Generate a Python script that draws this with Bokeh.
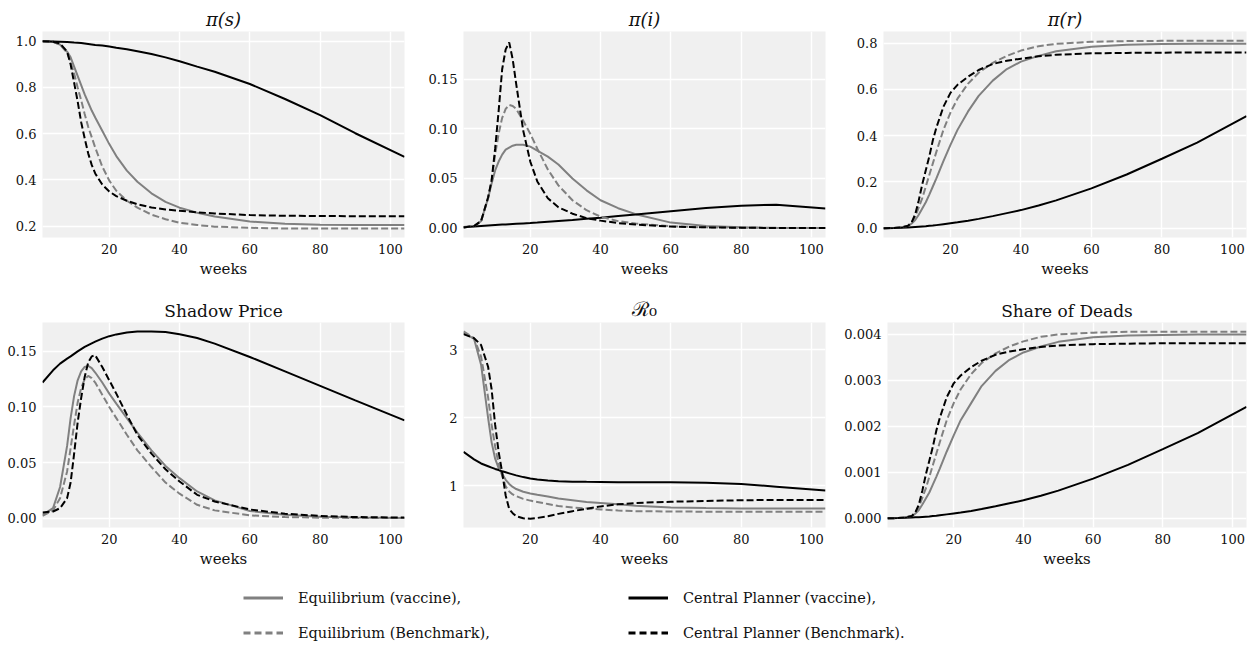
from bokeh.plotting import figure
from bokeh.models import Range1d, FixedTicker, NumeralTickFormatter, Legend, LegendItem, ColumnDataSource
from bokeh.layouts import column, row
from bokeh.embed import file_html
from bokeh.resources import INLINE

# ---------------- data ----------------
weeks = [1, 4, 6, 8, 9, 10, 11, 12, 13, 14, 15, 16, 18, 20, 22, 25, 28, 32, 36, 40, 45, 50, 60, 70, 80, 90, 104]

# pi(s)
s_eq_vac = [1.0, 0.997, 0.985, 0.955, 0.93, 0.89, 0.85, 0.81, 0.77, 0.735, 0.70, 0.67, 0.613, 0.555, 0.503, 0.44, 0.392, 0.342, 0.305, 0.28, 0.258, 0.242, 0.22, 0.21, 0.206, 0.205, 0.205]
s_cp_vac = [1.0, 0.999, 0.998, 0.997, 0.996, 0.994, 0.993, 0.992, 0.99, 0.988, 0.986, 0.984, 0.981, 0.977, 0.972, 0.965, 0.957, 0.945, 0.93, 0.913, 0.89, 0.868, 0.815, 0.75, 0.68, 0.602, 0.50]
s_eq_bench = [1.0, 0.997, 0.985, 0.95, 0.91, 0.86, 0.80, 0.745, 0.685, 0.63, 0.585, 0.54, 0.458, 0.397, 0.353, 0.31, 0.28, 0.25, 0.23, 0.215, 0.205, 0.198, 0.193, 0.19, 0.19, 0.19, 0.19]
s_cp_bench = [1.0, 0.998, 0.99, 0.955, 0.90, 0.82, 0.74, 0.65, 0.58, 0.515, 0.465, 0.428, 0.38, 0.35, 0.33, 0.31, 0.295, 0.281, 0.272, 0.267, 0.26, 0.255, 0.248, 0.245, 0.244, 0.243, 0.243]

# pi(i)
i_eq_vac = [0.0005, 0.002, 0.007, 0.03, 0.045, 0.058, 0.067, 0.074, 0.079, 0.081, 0.083, 0.084, 0.084, 0.082, 0.078, 0.072, 0.064, 0.05, 0.038, 0.028, 0.02, 0.014, 0.0055, 0.002, 0.0007, 0.0002, 0.0]
i_cp_vac = [0.001, 0.0017, 0.0022, 0.0027, 0.0029, 0.0031, 0.0033, 0.0035, 0.0037, 0.0039, 0.0041, 0.0043, 0.0047, 0.0051, 0.0056, 0.0064, 0.0072, 0.0082, 0.0093, 0.0105, 0.0122, 0.0137, 0.017, 0.0201, 0.0226, 0.0235, 0.0198]
i_eq_bench = [0.0005, 0.002, 0.007, 0.03, 0.048, 0.074, 0.095, 0.111, 0.12, 0.124, 0.123, 0.12, 0.108, 0.095, 0.08, 0.059, 0.043, 0.028, 0.018, 0.0115, 0.007, 0.0045, 0.0018, 0.0007, 0.0003, 0.0001, 0.0]
i_cp_bench = [0.0005, 0.002, 0.007, 0.031, 0.048, 0.08, 0.118, 0.16, 0.18, 0.187, 0.17, 0.145, 0.098, 0.067, 0.047, 0.03, 0.021, 0.0145, 0.01, 0.0075, 0.005, 0.0035, 0.0015, 0.0007, 0.0003, 0.0001, 0.0]

# pi(r)
r_eq_vac = [0.0, 0.001, 0.003, 0.01, 0.02, 0.035, 0.058, 0.085, 0.112, 0.145, 0.18, 0.215, 0.29, 0.36, 0.425, 0.505, 0.572, 0.638, 0.688, 0.72, 0.745, 0.765, 0.785, 0.793, 0.796, 0.797, 0.797]
r_cp_vac = [0.0, 0.001, 0.002, 0.003, 0.004, 0.005, 0.006, 0.007, 0.008, 0.01, 0.011, 0.013, 0.017, 0.021, 0.025, 0.032, 0.04, 0.052, 0.065, 0.078, 0.098, 0.12, 0.172, 0.232, 0.30, 0.37, 0.484]
r_eq_bench = [0.0, 0.001, 0.003, 0.01, 0.025, 0.05, 0.09, 0.13, 0.18, 0.23, 0.28, 0.33, 0.425, 0.5, 0.56, 0.625, 0.672, 0.715, 0.745, 0.768, 0.787, 0.797, 0.806, 0.809, 0.81, 0.81, 0.81]
r_cp_bench = [0.0, 0.001, 0.003, 0.01, 0.025, 0.06, 0.12, 0.19, 0.25, 0.31, 0.38, 0.435, 0.525, 0.585, 0.62, 0.655, 0.684, 0.71, 0.724, 0.733, 0.743, 0.75, 0.756, 0.758, 0.759, 0.76, 0.76]

# Shadow price
sp_eq_vac = [0.003, 0.009, 0.028, 0.065, 0.09, 0.11, 0.124, 0.132, 0.136, 0.137, 0.135, 0.131, 0.122, 0.112, 0.103, 0.09, 0.077, 0.061, 0.047, 0.036, 0.024, 0.016, 0.0065, 0.003, 0.0012, 0.0005, 0.0002]
sp_cp_vac = [0.122, 0.133, 0.139, 0.1435, 0.1455, 0.1478, 0.15, 0.152, 0.154, 0.1557, 0.1573, 0.1588, 0.1615, 0.1637, 0.1653, 0.167, 0.1678, 0.168, 0.1674, 0.1655, 0.162, 0.157, 0.145, 0.132, 0.119, 0.106, 0.088]
sp_eq_bench = [0.002, 0.007, 0.018, 0.042, 0.063, 0.084, 0.104, 0.117, 0.125, 0.128, 0.126, 0.122, 0.111, 0.1, 0.09, 0.075, 0.061, 0.046, 0.032, 0.022, 0.012, 0.007, 0.0025, 0.001, 0.0004, 0.0002, 0.0001]
sp_cp_bench = [0.005, 0.006, 0.009, 0.018, 0.032, 0.058, 0.086, 0.108, 0.127, 0.14, 0.1455, 0.1465, 0.136, 0.124, 0.112, 0.093, 0.075, 0.058, 0.044, 0.033, 0.021, 0.015, 0.0078, 0.004, 0.002, 0.001, 0.0005]

# R0
r0_eq_vac = [3.25, 3.16, 2.78, 2.0, 1.64, 1.4, 1.26, 1.18, 1.09, 1.03, 0.985, 0.955, 0.915, 0.89, 0.87, 0.845, 0.815, 0.79, 0.765, 0.75, 0.73, 0.71, 0.685, 0.675, 0.67, 0.668, 0.668]
r0_cp_vac = [1.5, 1.39, 1.33, 1.29, 1.27, 1.25, 1.235, 1.215, 1.2, 1.185, 1.17, 1.155, 1.13, 1.11, 1.095, 1.08, 1.07, 1.063, 1.06, 1.058, 1.056, 1.055, 1.053, 1.048, 1.03, 0.99, 0.935]
r0_eq_bench = [3.27, 3.17, 2.9, 2.3, 1.9, 1.58, 1.32, 1.15, 0.995, 0.92, 0.875, 0.85, 0.81, 0.785, 0.765, 0.735, 0.705, 0.685, 0.67, 0.655, 0.64, 0.63, 0.625, 0.622, 0.62, 0.62, 0.62]
r0_cp_bench = [3.23, 3.17, 3.07, 2.75, 2.42, 1.9, 1.5, 1.2, 0.86, 0.66, 0.6, 0.555, 0.525, 0.52, 0.53, 0.555, 0.59, 0.63, 0.665, 0.7, 0.73, 0.75, 0.768, 0.78, 0.79, 0.795, 0.795]

# Share of deads
d_eq_vac = [0.0, 0.000005, 0.000015, 0.00005, 0.0001, 0.00018, 0.0003, 0.00043, 0.00056, 0.00073, 0.0009, 0.00108, 0.00145, 0.0018, 0.00213, 0.0025, 0.00287, 0.0032, 0.00344, 0.0036, 0.00373, 0.00383, 0.00393, 0.00397, 0.00398, 0.00399, 0.00399]
d_cp_vac = [0.0, 0.000005, 0.00001, 0.000015, 0.00002, 0.000025, 0.00003, 0.000035, 0.00004, 0.00005, 0.000055, 0.000065, 0.000085, 0.000105, 0.000125, 0.00016, 0.0002, 0.00026, 0.000325, 0.00039, 0.00049, 0.0006, 0.00086, 0.00116, 0.0015, 0.00185, 0.00242]
d_eq_bench = [0.0, 0.000005, 0.000015, 0.00005, 0.00012, 0.00025, 0.00045, 0.00065, 0.0009, 0.00115, 0.0014, 0.00165, 0.00213, 0.0025, 0.0028, 0.00313, 0.00337, 0.00358, 0.00373, 0.00384, 0.00394, 0.00399, 0.00403, 0.00405, 0.00405, 0.00405, 0.00405]
d_cp_bench = [0.0, 0.000005, 0.000015, 0.00005, 0.00013, 0.0003, 0.0006, 0.00095, 0.00125, 0.00155, 0.0019, 0.00218, 0.00263, 0.00293, 0.0031, 0.00328, 0.00342, 0.00355, 0.00362, 0.00367, 0.00372, 0.00375, 0.00378, 0.00379, 0.0038, 0.0038, 0.0038]

x_ticks = [20, 40, 60, 80, 100]
legend_labels = ["Equilibrium (vaccine),", "Central Planner (vaccine),",
                 "Equilibrium (Benchmark),", "Central Planner (Benchmark)."]

# ---------------- styling ----------------
FONT = "DejaVu Serif"
BG = "#f0f0f0"
GRAY = "#808080"
DASH = "7 3"


def make_panel(title, series, yrange, yticks, fmt, width, height, bl, br, bt,
               italic=False, tsize="17px"):
    src = ColumnDataSource(dict(w=weeks, a=series[0], b=series[1], c=series[2], d=series[3]))
    p = figure(width=width, height=height, x_range=Range1d(1, 104), y_range=Range1d(*yrange),
               output_backend="svg", toolbar_location=None,
               min_border_left=bl, min_border_right=br, min_border_top=bt, min_border_bottom=45,
               background_fill_color=BG, border_fill_color="white")
    p.outline_line_color = None
    p.title.text = title
    p.title.align = "center"
    p.title.text_font = FONT
    p.title.text_font_size = tsize
    p.title.text_font_style = "italic" if italic else "normal"
    p.title.text_color = "#111111"
    p.title.standoff = 3
    p.line("w", "a", source=src, color=GRAY, line_width=2)
    p.line("w", "b", source=src, color="black", line_width=2)
    p.line("w", "c", source=src, color=GRAY, line_width=2, line_dash=DASH)
    p.line("w", "d", source=src, color="black", line_width=2, line_dash=DASH)
    p.xaxis.ticker = FixedTicker(ticks=x_ticks)
    p.yaxis.ticker = FixedTicker(ticks=yticks)
    p.yaxis.formatter = NumeralTickFormatter(format=fmt)
    p.xaxis.axis_label = "weeks"
    for ax in (p.xaxis[0], p.yaxis[0]):
        ax.axis_line_color = None
        ax.major_tick_line_color = None
        ax.minor_tick_line_color = None
        ax.major_tick_out = 0
        ax.major_tick_in = 0
        ax.major_label_text_font = FONT
        ax.major_label_text_font_size = "13px"
        ax.major_label_text_color = "#111111"
    p.yaxis.major_label_standoff = 6
    p.xaxis.major_label_standoff = 6
    p.xaxis.axis_label_text_font = FONT
    p.xaxis.axis_label_text_font_size = "15px"
    p.xaxis.axis_label_text_font_style = "normal"
    p.xaxis.axis_label_text_color = "#111111"
    p.xaxis.axis_label_standoff = 3
    for g in (p.xgrid[0], p.ygrid[0]):
        g.grid_line_color = "white"
        g.grid_line_width = 1.4
    return p


H1, H2, H3 = 282, 290, 80
W1, W2, W3 = 421, 420, 409

p1 = make_panel("π(s)", [s_eq_vac, s_cp_vac, s_eq_bench, s_cp_bench], (0.151, 1.042),
                [0.2, 0.4, 0.6, 0.8, 1.0], "0.0", W1, H1, 42, 17, 31, italic=True, tsize="18px")
p2 = make_panel("π(i)", [i_eq_vac, i_cp_vac, i_eq_bench, i_cp_bench], (-0.0095, 0.198),
                [0.0, 0.05, 0.10, 0.15], "0.00", W2, H1, 42, 16, 31, italic=True, tsize="18px")
p3 = make_panel("π(r)", [r_eq_vac, r_cp_vac, r_eq_bench, r_cp_bench], (-0.0405, 0.8505),
                [0.0, 0.2, 0.4, 0.6, 0.8], "0.0", W3, H1, 42, 4, 31, italic=True, tsize="18px")
p4 = make_panel("Shadow Price", [sp_eq_vac, sp_cp_vac, sp_eq_bench, sp_cp_bench], (-0.0084, 0.176),
                [0.0, 0.05, 0.10, 0.15], "0.00", W1, H2, 42, 17, 40)
p5 = make_panel("ℛ₀", [r0_eq_vac, r0_cp_vac, r0_eq_bench, r0_cp_bench], (0.39, 3.40),
                [1, 2, 3], "0", W2, H2, 42, 16, 40, tsize="20px")
p6 = make_panel("Share of Deads", [d_eq_vac, d_cp_vac, d_eq_bench, d_cp_bench], (-0.0002, 0.00425),
                [0.0, 0.001, 0.002, 0.003, 0.004], "0.000", W3, H2, 42, 4, 40)

# ---------------- legend ----------------
# legend-only figure: the series are drawn outside its visible ranges, only the legend shows
leg = figure(width=W1 + W2 + W3, height=H3, output_backend="svg", toolbar_location=None,
             x_axis_location=None, y_axis_location=None, min_border=0,
             x_range=Range1d(-20, -10), y_range=Range1d(-20, -10), border_fill_color="white",
             background_fill_color="white")
leg.outline_line_color = None
leg.grid.visible = False
ra = leg.line(weeks, s_eq_vac, color=GRAY, line_width=3)
rb = leg.line(weeks, s_cp_vac, color="black", line_width=3)
rc = leg.line(weeks, s_eq_bench, color=GRAY, line_width=3, line_dash="7 4")
rd = leg.line(weeks, s_cp_bench, color="black", line_width=3, line_dash="7 4")


def make_legend(items, loc):
    L = Legend(items=items, location=loc, orientation="vertical",
               glyph_width=40, glyph_height=23, label_standoff=15, spacing=12,
               padding=0, margin=0, border_line_alpha=0, background_fill_alpha=0,
               label_text_font=FONT, label_text_font_size="14.5px", label_text_color="#111111")
    leg.add_layout(L)


make_legend([LegendItem(label=legend_labels[0], renderers=[ra]),
             LegendItem(label=legend_labels[2], renderers=[rc])], (243, 8))
make_legend([LegendItem(label=legend_labels[1], renderers=[rb]),
             LegendItem(label=legend_labels[3], renderers=[rd])], (628, 8))

layout = column(row(p1, p2, p3), row(p4, p5, p6), leg)
open("out.html", "w").write(file_html(layout, INLINE))
